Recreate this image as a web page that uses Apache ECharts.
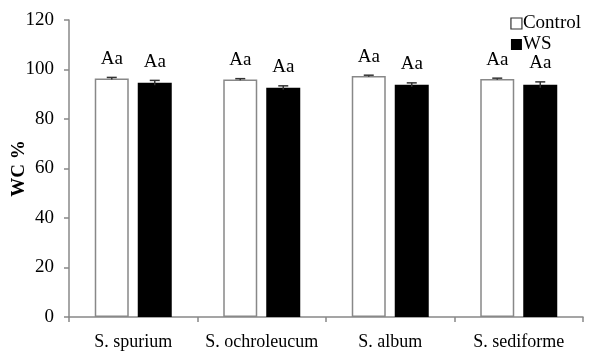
<!DOCTYPE html>
<html><head><meta charset="utf-8">
<script src="https://cdn.jsdelivr.net/npm/echarts@6/dist/echarts.min.js"></script>
<style>html,body{margin:0;padding:0;background:#fff}#c{width:591px;height:356px}</style>
</head><body><div id="c"></div>
<script>
var categories = ['S. spurium', 'S. ochroleucum', 'S. album', 'S. sediforme'];
var controlValues = [96.4, 96.0, 97.4, 96.2];
var controlErrors = [0.4, 0.3, 0.3, 0.3];
var wsValues = [94.6, 92.6, 93.8, 93.8];
var wsErrors = [1.0, 0.8, 0.8, 1.2];
var controlLetters = ['Aa', 'Aa', 'Aa', 'Aa'];
var wsLetters = ['Aa', 'Aa', 'Aa', 'Aa'];
var yTicks = [0, 20, 40, 60, 80, 100, 120];

var FONT = '"Liberation Serif", "Times New Roman", serif';
var BAR_W = 34, GAP = 9;

function errSeries(vals, errs, letters, side) {
  return {
    type: 'custom',
    z: 5,
    data: vals.map(function (v, i) { return [i, v, errs[i]]; }),
    renderItem: function (params, api) {
      var i = api.value(0), v = api.value(1), e = api.value(2);
      var c = api.coord([i, v]);
      var x = c[0] + side * (BAR_W + GAP) / 2;
      var top = api.coord([i, v + e])[1];
      var bot = api.coord([i, v - e])[1];
      var st = { stroke: '#333', lineWidth: 1.5 };
      return {
        type: 'group',
        children: [
          { type: 'line', shape: { x1: x, y1: top, x2: x, y2: bot }, style: st },
          { type: 'line', shape: { x1: x - 5, y1: top, x2: x + 5, y2: top }, style: st },
          { type: 'text', x: x, y: top - 9,
            style: { text: letters[i], font: '19px ' + FONT, fill: '#000', textAlign: 'center', textVerticalAlign: 'bottom' } }
        ]
      };
    }
  };
}

var chart = echarts.init(document.getElementById('c'));
chart.setOption({
  animation: false,
  backgroundColor: '#fff',
  grid: { left: 69, right: 8, top: 20, bottom: 39, containLabel: false, outerBoundsMode: 'none' },
  legend: {
    right: 5, top: 9, orient: 'vertical', itemGap: 2, itemWidth: 11, itemHeight: 11,
    textStyle: { fontFamily: FONT, fontSize: 19, color: '#000', padding: [0, 0, 0, -4] },
    data: [
      { name: 'Control', icon: 'rect', itemStyle: { color: '#fff', borderColor: '#333', borderWidth: 1.2 } },
      { name: 'WS', icon: 'rect', itemStyle: { color: '#000' } }
    ]
  },
  xAxis: {
    type: 'category', data: categories,
    axisLine: { lineStyle: { color: '#888', width: 1.5 } },
    axisTick: { show: true, length: 5, lineStyle: { color: '#888', width: 1.5 } },
    axisLabel: { interval: 0, fontFamily: FONT, fontSize: 18, color: '#000', margin: 16 }
  },
  yAxis: {
    type: 'value', min: yTicks[0], max: yTicks[yTicks.length - 1], interval: 20,
    name: 'WC %', nameLocation: 'middle', nameGap: 40, nameMoveOverlap: false,
    nameTextStyle: { fontFamily: FONT, fontSize: 19, fontWeight: 'bold', color: '#000' },
    axisLine: { show: true, lineStyle: { color: '#888', width: 1.5 } },
    axisTick: { show: true, length: 5, lineStyle: { color: '#888', width: 1.5 } },
    axisLabel: { fontFamily: FONT, fontSize: 19, color: '#000', margin: 15 },
    splitLine: { show: false }
  },
  series: [
    { name: 'Control', type: 'bar', data: controlValues, barWidth: BAR_W, barGap: (GAP / BAR_W * 100) + '%',
      itemStyle: { color: '#fff', borderColor: '#888', borderWidth: 1.5 } },
    { name: 'WS', type: 'bar', data: wsValues, barWidth: BAR_W,
      itemStyle: { color: '#000' } },
    errSeries(controlValues, controlErrors, controlLetters, -1),
    errSeries(wsValues, wsErrors, wsLetters, 1)
  ]
});
</script></body></html>
